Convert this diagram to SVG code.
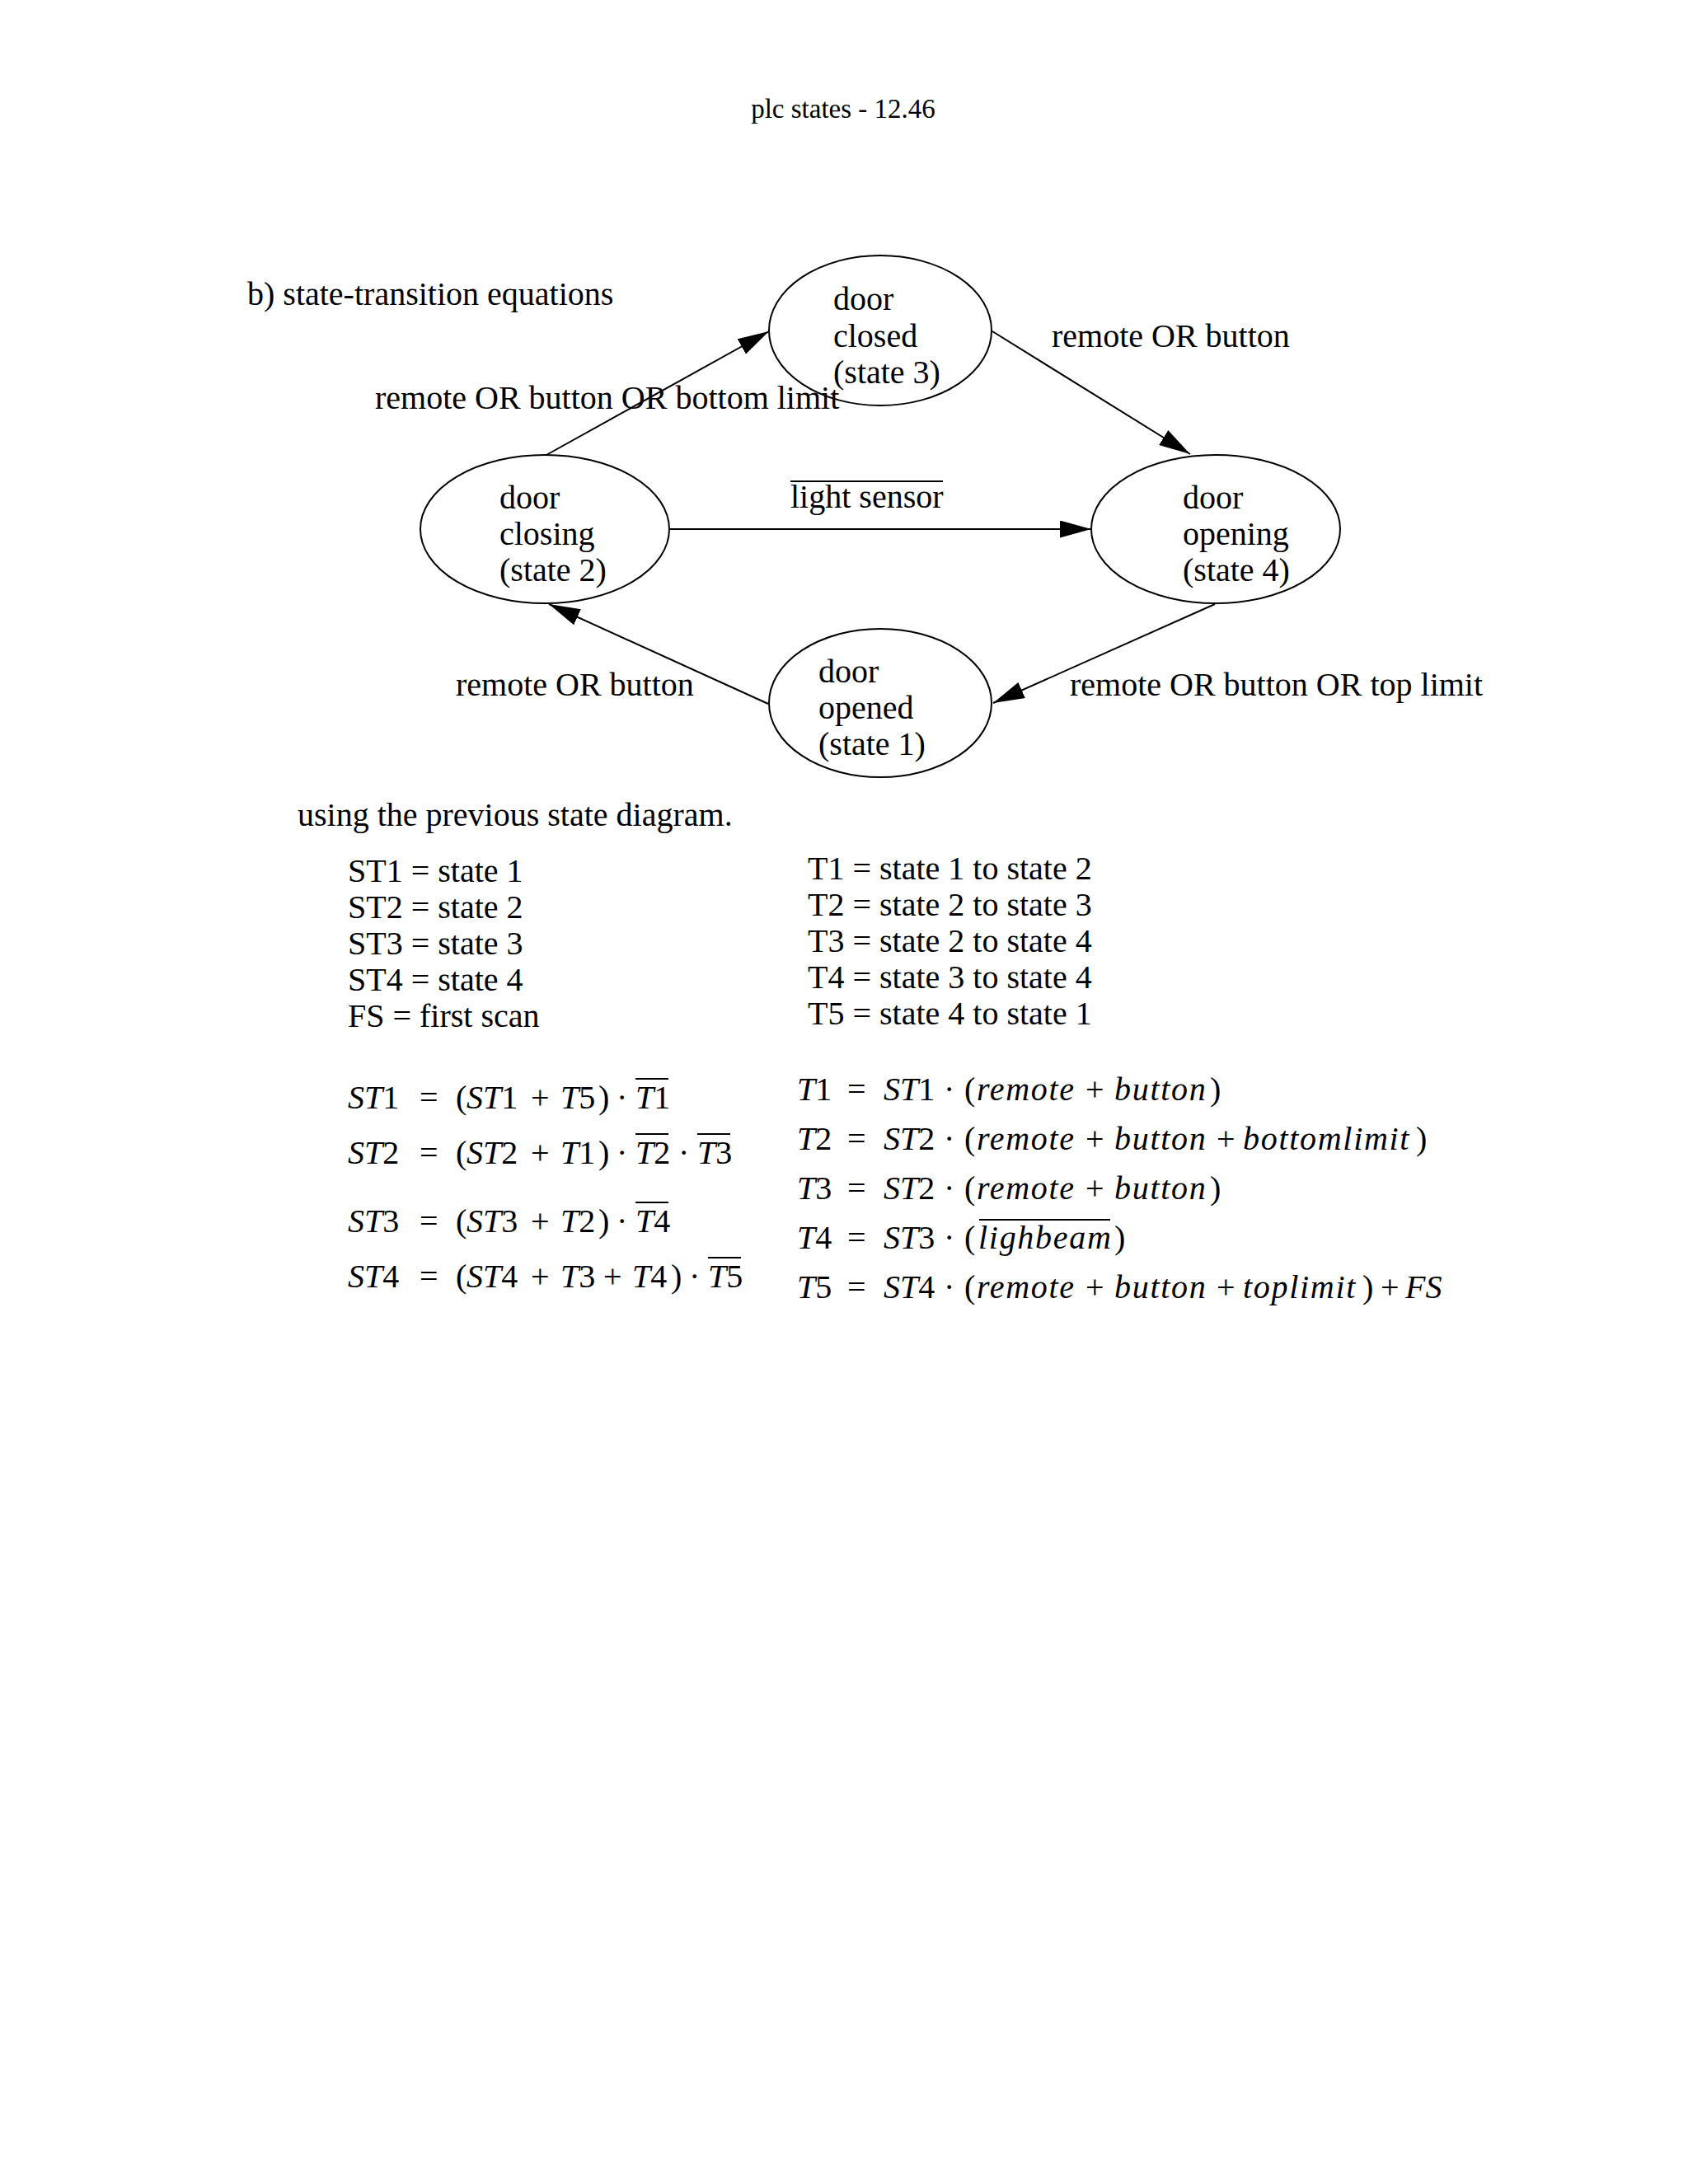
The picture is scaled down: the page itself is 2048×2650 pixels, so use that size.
<svg xmlns="http://www.w3.org/2000/svg" width="2048" height="2650" viewBox="0 0 2048 2650">
<style>
text{font-family:"Liberation Serif","Times New Roman",serif;font-size:40px;fill:#000}
.title{font-size:33px}
.i{font-style:italic}
.w{font-style:italic;letter-spacing:1.7px}
.node{fill:none;stroke:#000;stroke-width:2}
.edge{fill:none;stroke:#000;stroke-width:2}
.bar{stroke:#000;stroke-width:2.2}
</style>
<defs>
<marker id="ah" viewBox="0 0 38 21" markerWidth="38" markerHeight="21" refX="38" refY="10.5" orient="auto" markerUnits="userSpaceOnUse">
<path d="M0,0 L38,10.5 L0,21 z" fill="#000"/>
</marker>
</defs>
<rect width="2048" height="2650" fill="#fff"/>
<text class="title" x="1023" y="143" text-anchor="middle">plc states - 12.46</text>
<text x="300" y="370">b) state-transition equations</text>

<g id="connectors">
<line class="edge" x1="663" y1="552" x2="933" y2="402" marker-end="url(#ah)"/>
<line class="edge" x1="1204" y1="402" x2="1444" y2="551" marker-end="url(#ah)"/>
<line class="edge" x1="812" y1="642" x2="1324" y2="642" marker-end="url(#ah)"/>
<line class="edge" x1="1474" y1="733" x2="1205" y2="853" marker-end="url(#ah)"/>
<line class="edge" x1="932" y1="854" x2="666" y2="733" marker-end="url(#ah)"/>
<text x="455" y="496">remote OR button OR bottom limit</text>
<text x="1276" y="421">remote OR button</text>
<text x="959" y="616">light sensor</text>
<line class="bar" x1="959" y1="584" x2="1144" y2="584"/>
<text x="553" y="844">remote OR button</text>
<text x="1298" y="844">remote OR button OR top limit</text>
</g>

<g id="node-closed">
<ellipse class="node" cx="1068" cy="401" rx="135" ry="91"/>
<text x="1011" y="376">door</text>
<text x="1011" y="421">closed</text>
<text x="1011" y="465">(state 3)</text>
</g>
<g id="node-closing">
<ellipse class="node" cx="661" cy="642" rx="151" ry="90"/>
<text x="606" y="617">door</text>
<text x="606" y="661">closing</text>
<text x="606" y="705">(state 2)</text>
</g>
<g id="node-opening">
<ellipse class="node" cx="1475" cy="642" rx="151" ry="90"/>
<text x="1435" y="617">door</text>
<text x="1435" y="661">opening</text>
<text x="1435" y="705">(state 4)</text>
</g>
<g id="node-opened">
<ellipse class="node" cx="1068" cy="853" rx="135" ry="90"/>
<text x="993" y="828">door</text>
<text x="993" y="872">opened</text>
<text x="993" y="916">(state 1)</text>
</g>

<text x="361" y="1002">using the previous state diagram.</text>

<g id="definitions">
<text x="422" y="1070">ST1 = state 1</text>
<text x="422" y="1114">ST2 = state 2</text>
<text x="422" y="1158">ST3 = state 3</text>
<text x="422" y="1202">ST4 = state 4</text>
<text x="422" y="1246">FS = first scan</text>
<text x="980" y="1067">T1 = state 1 to state 2</text>
<text x="980" y="1111">T2 = state 2 to state 3</text>
<text x="980" y="1155">T3 = state 2 to state 4</text>
<text x="980" y="1199">T4 = state 3 to state 4</text>
<text x="980" y="1243">T5 = state 4 to state 1</text>
</g>

<g id="state-equations">
<text y="1345"><tspan x="422" class="i">ST</tspan><tspan>1</tspan><tspan x="509">=</tspan><tspan x="553">(</tspan><tspan x="566" class="i">ST</tspan><tspan>1</tspan><tspan x="644">+</tspan><tspan x="680" class="i">T</tspan><tspan>5</tspan><tspan x="726">)</tspan><tspan x="748">·</tspan><tspan x="771" class="i">T</tspan><tspan>1</tspan></text>
<line class="bar" x1="771" y1="1309" x2="811" y2="1309"/>
<text y="1412"><tspan x="422" class="i">ST</tspan><tspan>2</tspan><tspan x="509">=</tspan><tspan x="553">(</tspan><tspan x="566" class="i">ST</tspan><tspan>2</tspan><tspan x="644">+</tspan><tspan x="680" class="i">T</tspan><tspan>1</tspan><tspan x="726">)</tspan><tspan x="748">·</tspan><tspan x="771" class="i">T</tspan><tspan>2</tspan><tspan x="823">·</tspan><tspan x="846" class="i">T</tspan><tspan>3</tspan></text>
<line class="bar" x1="771" y1="1376" x2="811" y2="1376"/>
<line class="bar" x1="846" y1="1376" x2="886" y2="1376"/>
<text y="1495"><tspan x="422" class="i">ST</tspan><tspan>3</tspan><tspan x="509">=</tspan><tspan x="553">(</tspan><tspan x="566" class="i">ST</tspan><tspan>3</tspan><tspan x="644">+</tspan><tspan x="680" class="i">T</tspan><tspan>2</tspan><tspan x="726">)</tspan><tspan x="748">·</tspan><tspan x="771" class="i">T</tspan><tspan>4</tspan></text>
<line class="bar" x1="771" y1="1459" x2="811" y2="1459"/>
<text y="1562"><tspan x="422" class="i">ST</tspan><tspan>4</tspan><tspan x="509">=</tspan><tspan x="553">(</tspan><tspan x="566" class="i">ST</tspan><tspan>4</tspan><tspan x="644">+</tspan><tspan x="680" class="i">T</tspan><tspan>3</tspan><tspan x="732">+</tspan><tspan x="767" class="i">T</tspan><tspan>4</tspan><tspan x="814">)</tspan><tspan x="836">·</tspan><tspan x="859" class="i">T</tspan><tspan>5</tspan></text>
<line class="bar" x1="859" y1="1526" x2="899" y2="1526"/>
</g>

<g id="transition-equations">
<text y="1335"><tspan x="967" class="i">T</tspan><tspan>1</tspan><tspan x="1028">=</tspan><tspan x="1072" class="i">ST</tspan><tspan>1</tspan><tspan x="1145">·</tspan><tspan x="1170">(</tspan><tspan x="1185" class="w">remote</tspan><tspan x="1317">+</tspan><tspan x="1352" class="w">button</tspan><tspan x="1468">)</tspan></text>
<text y="1395"><tspan x="967" class="i">T</tspan><tspan>2</tspan><tspan x="1028">=</tspan><tspan x="1072" class="i">ST</tspan><tspan>2</tspan><tspan x="1145">·</tspan><tspan x="1170">(</tspan><tspan x="1185" class="w">remote</tspan><tspan x="1317">+</tspan><tspan x="1352" class="w">button</tspan><tspan x="1476">+</tspan><tspan x="1508" class="w">bottomlimit</tspan><tspan x="1718">)</tspan></text>
<text y="1455"><tspan x="967" class="i">T</tspan><tspan>3</tspan><tspan x="1028">=</tspan><tspan x="1072" class="i">ST</tspan><tspan>2</tspan><tspan x="1145">·</tspan><tspan x="1170">(</tspan><tspan x="1185" class="w">remote</tspan><tspan x="1317">+</tspan><tspan x="1352" class="w">button</tspan><tspan x="1468">)</tspan></text>
<text y="1515"><tspan x="967" class="i">T</tspan><tspan>4</tspan><tspan x="1028">=</tspan><tspan x="1072" class="i">ST</tspan><tspan>3</tspan><tspan x="1145">·</tspan><tspan x="1170">(</tspan><tspan x="1187" class="w">lighbeam</tspan><tspan x="1352">)</tspan></text>
<line class="bar" x1="1188" y1="1480" x2="1347" y2="1480"/>
<text y="1575"><tspan x="967" class="i">T</tspan><tspan>5</tspan><tspan x="1028">=</tspan><tspan x="1072" class="i">ST</tspan><tspan>4</tspan><tspan x="1145">·</tspan><tspan x="1170">(</tspan><tspan x="1185" class="w">remote</tspan><tspan x="1317">+</tspan><tspan x="1352" class="w">button</tspan><tspan x="1476">+</tspan><tspan x="1508" class="w">toplimit</tspan><tspan x="1653">)</tspan><tspan x="1675">+</tspan><tspan x="1705" class="i">FS</tspan></text>
</g>
</svg>
